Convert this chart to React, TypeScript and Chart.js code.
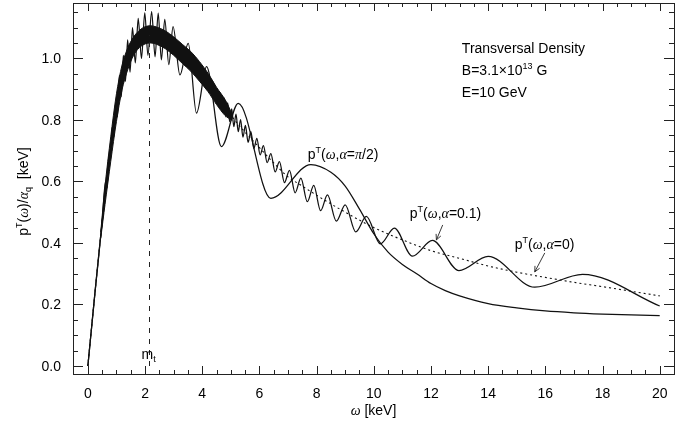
import React, { useEffect, useRef } from 'react';
import { Chart, registerables } from 'chart.js';

Chart.register(...registerables);

// ---------- data ----------
// alpha = 0 (dotted, smooth)
const dotX = [0, 0.25, 0.5, 0.75, 1, 1.25, 1.5, 1.75, 2, 2.25, 2.5, 3, 3.5, 4, 4.5, 5, 5.5, 6, 6.5, 7, 7.5, 8, 9, 10, 11, 12, 13, 14, 15, 16, 17, 18, 19, 20];
const dotY = [0, 0.24, 0.47, 0.67, 0.84, 0.955, 1.025, 1.06, 1.075, 1.078, 1.07, 1.04, 0.999, 0.945, 0.878, 0.815, 0.76, 0.71, 0.66, 0.615, 0.585, 0.555, 0.5, 0.45, 0.41, 0.375, 0.35, 0.325, 0.305, 0.288, 0.272, 0.258, 0.243, 0.228];

// alpha = pi/2 (oscillating, extrema + smooth tail)
const halfPiX = [0, 0.25, 0.5, 0.62, 0.675, 0.73, 0.79, 0.85, 0.91, 0.97, 1.035, 1.1, 1.17, 1.24, 1.315, 1.39, 1.475, 1.56, 1.66, 1.76, 1.875, 1.99, 2.1, 2.23, 2.35, 2.46, 2.57, 2.69, 2.83, 2.98, 3.22, 3.51, 3.8, 4.15, 4.67, 5.26, 6.4, 7.8, 8.5, 9.0, 9.5, 10, 10.5, 11, 11.5, 12, 12.5, 13, 14, 15, 16, 17, 18, 19, 20];
const halfPiY = [0, 0.24, 0.47, 0.6, 0.58, 0.685, 0.67, 0.775, 0.745, 0.855, 0.81, 0.945, 0.875, 1.01, 0.925, 1.06, 0.955, 1.1, 0.985, 1.13, 1.0, 1.148, 1.01, 1.152, 1.005, 1.147, 0.995, 1.127, 0.98, 1.103, 0.946, 1.049, 0.822, 0.973, 0.713, 0.854, 0.545, 0.655, 0.63, 0.585, 0.51, 0.43, 0.37, 0.33, 0.30, 0.268, 0.245, 0.228, 0.203, 0.189, 0.179, 0.173, 0.169, 0.166, 0.164];

// alpha = 0.1 (resolved oscillation extrema)
const alpha01X = [0, 0.25, 0.45, 1.0, 2.0, 3.0, 4.0, 4.43, 4.48, 4.53, 4.585, 4.64, 4.7, 4.76, 4.825, 4.89, 4.96, 5.03, 5.105, 5.18, 5.26, 5.34, 5.425, 5.51, 5.605, 5.7, 5.805, 5.91, 6.025, 6.14, 6.27, 6.4, 6.55, 6.7, 6.875, 7.05, 7.25, 7.45, 7.675, 7.9, 8.14, 8.38, 8.69, 9.0, 9.37, 9.74, 10.23, 10.72, 11.35, 12.05, 12.98, 14.0, 15.63, 17.3, 20];
const alpha01Y = [0, 0.24, 0.425, 0.84, 1.075, 1.04, 0.945, 0.914, 0.854, 0.901, 0.840, 0.888, 0.826, 0.872, 0.810, 0.855, 0.794, 0.836, 0.778, 0.819, 0.762, 0.801, 0.744, 0.782, 0.727, 0.762, 0.707, 0.74, 0.686, 0.716, 0.661, 0.69, 0.631, 0.664, 0.596, 0.636, 0.563, 0.611, 0.534, 0.587, 0.505, 0.556, 0.471, 0.524, 0.436, 0.486, 0.397, 0.448, 0.357, 0.408, 0.31, 0.356, 0.256, 0.298, 0.195];

// alpha = 0.1 dense (unresolved) oscillation band: envelopes
const bandX = [0.45, 0.6, 0.8, 1.0, 1.2, 1.4, 1.6, 1.8, 2.0, 2.2, 2.4, 2.7, 3.0, 3.3, 3.6, 3.9, 4.2, 4.5, 4.8, 5.05];
const bandUpper = [0.435, 0.585, 0.745, 0.885, 0.98, 1.035, 1.07, 1.091, 1.103, 1.106, 1.102, 1.09, 1.07, 1.046, 1.022, 0.99, 0.952, 0.906, 0.866, 0.818];
const bandLower = [0.415, 0.525, 0.665, 0.795, 0.90, 0.965, 1.01, 1.035, 1.047, 1.05, 1.046, 1.032, 1.01, 0.984, 0.958, 0.926, 0.892, 0.85, 0.814, 0.798];

// ticks
const xTickValues = [0, 2, 4, 6, 8, 10, 12, 14, 16, 18, 20];
const xTickLabels = ['0', '2', '4', '6', '8', '10', '12', '14', '16', '18', '20'];
const yTickValues = [0, 0.2, 0.4, 0.6, 0.8, 1.0];
const yTickLabels = ['0.0', '0.2', '0.4', '0.6', '0.8', '1.0'];
const xMinorStep = 0.5;
const yMinorStep = 0.05;

// annotation anchors (data units)
const mtX = 2.13;
const mtTopY = 1.075;

// ---------- styling ----------
const F = "14px 'Liberation Sans', Arial, sans-serif";
const FS = "9px 'Liberation Sans', Arial, sans-serif";
const FG = "italic 14px 'Liberation Serif', 'Times New Roman', serif";
const INK = '#111';
const LW = 1.25;

type Seg = { t: string; f: string; dy?: number };

function segsWidth(ctx: CanvasRenderingContext2D, segs: Seg[]) {
  let w = 0;
  for (const s of segs) {
    ctx.font = s.f;
    w += ctx.measureText(s.t).width;
  }
  return w;
}

function drawSegs(ctx: CanvasRenderingContext2D, segs: Seg[], x: number, y: number, align: 'left' | 'center' | 'right') {
  const w = segsWidth(ctx, segs);
  let cx = align === 'left' ? x : align === 'center' ? x - w / 2 : x - w;
  ctx.textAlign = 'left';
  ctx.textBaseline = 'alphabetic';
  for (const s of segs) {
    ctx.font = s.f;
    ctx.fillText(s.t, cx, y + (s.dy || 0));
    cx += ctx.measureText(s.t).width;
  }
}

function pLabel(alphaSegs: Seg[]): Seg[] {
  return [
    { t: 'p', f: F },
    { t: 'T', f: FS, dy: -6 },
    { t: '(', f: F },
    { t: 'ω', f: FG },
    { t: ',', f: F },
    { t: 'α', f: FG },
    { t: '=', f: F },
    ...alphaSegs,
    { t: ')', f: F },
  ];
}

const decorPlugin = {
  id: 'decor',
  afterDraw(chart: any) {
    const ctx: CanvasRenderingContext2D = chart.ctx;
    const xs = chart.scales.x;
    const ys = chart.scales.y;
    const a = chart.chartArea;
    const px = (v: number) => xs.getPixelForValue(v);
    const py = (v: number) => ys.getPixelForValue(v);
    ctx.save();

    // frame
    ctx.strokeStyle = '#222';
    ctx.lineWidth = 1;
    ctx.setLineDash([]);
    ctx.strokeRect(Math.round(a.left) + 0.5, Math.round(a.top) + 0.5, Math.round(a.right - a.left), Math.round(a.bottom - a.top));

    // ticks (inward, all four sides)
    const majL = 8, minL = 4;
    ctx.beginPath();
    for (let v = 0; v <= 20 + 1e-9; v += xMinorStep) {
      const isMaj = xTickValues.some((t) => Math.abs(t - v) < 1e-6);
      const L = isMaj ? majL : minL;
      const x = Math.round(px(v)) + 0.5;
      ctx.moveTo(x, a.bottom);
      ctx.lineTo(x, a.bottom - L);
      ctx.moveTo(x, a.top);
      ctx.lineTo(x, a.top + L);
    }
    for (let v = 0; v <= 1.15 + 1e-9; v += yMinorStep) {
      const isMaj = yTickValues.some((t) => Math.abs(t - v) < 1e-6);
      const L = isMaj ? majL + 2 : minL + 1;
      const y = Math.round(py(v)) + 0.5;
      ctx.moveTo(a.left, y);
      ctx.lineTo(a.left + L, y);
      ctx.moveTo(a.right, y);
      ctx.lineTo(a.right - L, y);
    }
    ctx.stroke();

    // tick labels
    ctx.fillStyle = '#000';
    ctx.font = F;
    ctx.textBaseline = 'alphabetic';
    ctx.textAlign = 'center';
    xTickValues.forEach((v, i) => ctx.fillText(xTickLabels[i], px(v), a.bottom + 24));
    ctx.textAlign = 'right';
    yTickValues.forEach((v, i) => ctx.fillText(yTickLabels[i], a.left - 12, py(v) + 5));

    // x title
    drawSegs(ctx, [{ t: 'ω', f: FG }, { t: ' [keV]', f: F }], (a.left + a.right) / 2, a.bottom + 41, 'center');

    // y title (rotated)
    ctx.save();
    ctx.translate(28, (a.top + a.bottom) / 2 + 3);
    ctx.rotate(-Math.PI / 2);
    drawSegs(
      ctx,
      [
        { t: 'p', f: F },
        { t: 'T', f: FS, dy: -6 },
        { t: '(', f: F },
        { t: 'ω', f: FG },
        { t: ')/', f: F },
        { t: 'α', f: FG },
        { t: 'q', f: FS, dy: 3 },
        { t: '  [keV]', f: F },
      ],
      0,
      0,
      'center'
    );
    ctx.restore();

    // m_t dashed marker
    ctx.strokeStyle = '#222';
    ctx.lineWidth = 1;
    ctx.setLineDash([5, 6]);
    ctx.beginPath();
    const mx = Math.round(px(mtX)) + 0.5;
    ctx.moveTo(mx, py(0));
    ctx.lineTo(mx, py(mtTopY));
    ctx.stroke();
    ctx.setLineDash([]);
    drawSegs(ctx, [{ t: 'm', f: F }, { t: 't', f: FS, dy: 3 }], px(1.88), py(0.023), 'left');

    // info text
    const ix = px(13.08);
    drawSegs(ctx, [{ t: 'Transversal Density', f: F }], ix, py(1.018), 'left');
    drawSegs(ctx, [{ t: 'B=3.1×10', f: F }, { t: '13', f: FS, dy: -6 }, { t: ' G', f: F }], ix, py(0.946), 'left');
    drawSegs(ctx, [{ t: 'E=10 GeV', f: F }], ix, py(0.875), 'left');

    // curve labels
    drawSegs(ctx, pLabel([{ t: 'π', f: FG }, { t: '/2', f: F }]), px(7.69), py(0.673), 'left');
    drawSegs(ctx, pLabel([{ t: '0.1', f: F }]), px(11.26), py(0.481), 'left');
    drawSegs(ctx, pLabel([{ t: '0', f: F }]), px(14.93), py(0.38), 'left');

    // arrows
    const arrow = (x1: number, y1: number, x2: number, y2: number) => {
      const X1 = px(x1), Y1 = py(y1), X2 = px(x2), Y2 = py(y2);
      const ang = Math.atan2(Y2 - Y1, X2 - X1);
      const h = 6, spread = 0.45;
      ctx.beginPath();
      ctx.moveTo(X1, Y1);
      ctx.lineTo(X2, Y2);
      ctx.moveTo(X2 - h * Math.cos(ang - spread), Y2 - h * Math.sin(ang - spread));
      ctx.lineTo(X2, Y2);
      ctx.lineTo(X2 - h * Math.cos(ang + spread), Y2 - h * Math.sin(ang + spread));
      ctx.stroke();
    };
    ctx.strokeStyle = '#222';
    ctx.lineWidth = 0.9;
    arrow(12.41, 0.4585, 12.19, 0.41);
    arrow(15.98, 0.3675, 15.63, 0.306);

    ctx.restore();
  },
};

const pts = (xs: number[], ys: number[]) => xs.map((x, i) => ({ x, y: ys[i] }));

export default function App() {
  const ref = useRef<HTMLCanvasElement>(null);
  useEffect(() => {
    document.body.style.margin = '0';
    const chart = new Chart(ref.current as HTMLCanvasElement, {
      type: 'line',
      data: {
        datasets: [
          {
            label: 'band upper',
            data: pts(bandX, bandUpper),
            borderColor: INK,
            borderWidth: 1,
            pointRadius: 0,
            fill: false,
            tension: 0.3,
          },
          {
            label: 'band lower',
            data: pts(bandX, bandLower),
            borderColor: INK,
            borderWidth: 1,
            pointRadius: 0,
            backgroundColor: INK,
            fill: '-1',
            tension: 0.3,
          },
          {
            label: 'alpha=0.1',
            data: pts(alpha01X, alpha01Y),
            borderColor: INK,
            borderWidth: LW,
            pointRadius: 0,
            fill: false,
            cubicInterpolationMode: 'monotone',
          },
          {
            label: 'alpha=pi/2',
            data: pts(halfPiX, halfPiY),
            borderColor: INK,
            borderWidth: LW,
            pointRadius: 0,
            fill: false,
            cubicInterpolationMode: 'monotone',
          },
          {
            label: 'alpha=0',
            data: pts(dotX, dotY),
            borderColor: INK,
            borderWidth: 1.1,
            borderDash: [2, 3],
            pointRadius: 0,
            fill: false,
            cubicInterpolationMode: 'monotone',
          },
        ] as any,
      },
      options: {
        responsive: false,
        animation: false,
        devicePixelRatio: 1,
        layout: { padding: { left: 73, right: 14, top: 3, bottom: 51 } },
        plugins: { legend: { display: false }, tooltip: { enabled: false } },
        events: [],
        scales: {
          x: { type: 'linear', min: -0.52, max: 20.5, display: false },
          y: { type: 'linear', min: -0.026, max: 1.18, display: false },
        },
      } as any,
      plugins: [decorPlugin],
    });
    return () => chart.destroy();
  }, []);
  return (
    <div style={{ width: 688, height: 425 }}>
      <canvas ref={ref} width={688} height={425} style={{ display: 'block' }} />
    </div>
  );
}
